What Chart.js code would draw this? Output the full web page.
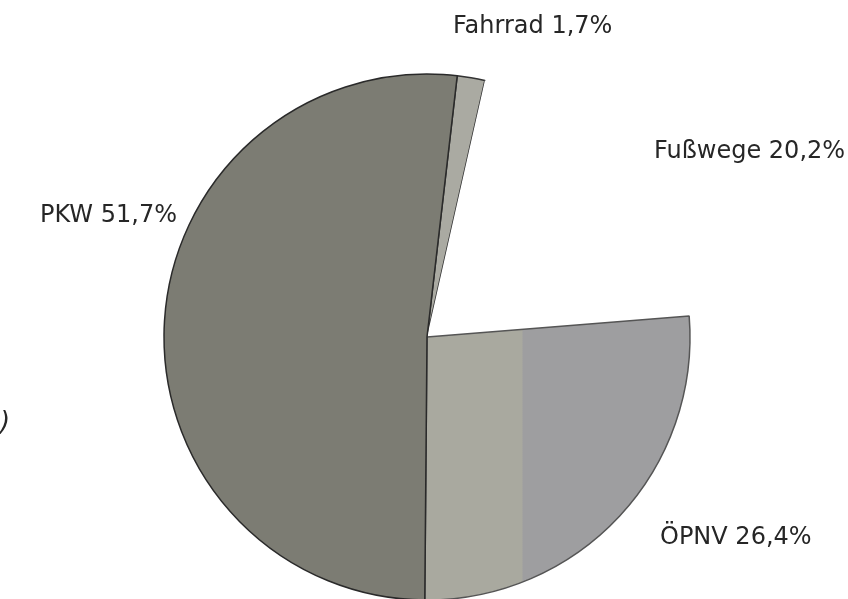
<!DOCTYPE html>
<html><head><meta charset="utf-8">
<script src="https://cdn.jsdelivr.net/npm/chart.js@4"></script>
<style>
html,body{margin:0;padding:0;background:#fff;overflow:hidden;width:848px;height:599px}
#wrap{position:absolute;left:0;top:0;width:848px;height:620px}
</style></head>
<body>
<div id="wrap"><canvas id="c" width="848" height="620"></canvas></div>
<script>
const categories = ["Fahrrad", "Fußwege", "ÖPNV", "PKW"];
const shares = [1.7, 20.2, 26.4, 51.7];
const labelTexts = ["Fahrrad 1,7%", "Fußwege 20,2%", "ÖPNV 26,4%", "PKW 51,7%"];

const labelPos = {
  "Fahrrad": [453, 33],
  "Fußwege": [654, 158],
  "ÖPNV": [660, 544],
  "PKW": [40, 222]
};

const baseColors = ['#aaaaa2', '#ffffff', null, '#7c7c73'];

function sliceFill(ctx) {
  const i = ctx.dataIndex;
  if (baseColors[i]) return baseColors[i];
  const chart = ctx.chart;
  const area = chart.chartArea;
  if (!area) return '#a4a49e';
  const g = chart.ctx.createLinearGradient(area.left, 0, area.right, 0);
  const s = (522 - area.left) / (area.right - area.left);
  g.addColorStop(0, '#a9a99f');
  g.addColorStop(s, '#a9a99f');
  g.addColorStop(Math.min(1, s + 0.002), '#9e9ea0');
  g.addColorStop(1, '#9e9ea0');
  return g;
}

const textPlugin = {
  id: 'texts',
  afterDraw(chart) {
    const c = chart.ctx;
    c.save();
    c.fillStyle = '#262626';
    c.font = '24px "DejaVu Sans"';
    c.textBaseline = 'alphabetic';
    c.textAlign = 'left';
    categories.forEach((cat, i) => {
      const p = labelPos[cat];
      c.fillText(labelTexts[i], p[0], p[1]);
    });
    c.font = 'italic 26px "DejaVu Sans"';
    c.fillText(')', 0, 430);
    c.restore();
  }
};

new Chart(document.getElementById('c'), {
  type: 'pie',
  data: {
    labels: categories,
    datasets: [{
      data: shares,
      backgroundColor: sliceFill,
      borderColor: ['#333333', 'rgba(0,0,0,0)', '#555555', '#2a2a2a'],
      borderWidth: 1.5,
      radius: 263,
      hoverOffset: 0,
      offset: 0
    }]
  },
  options: {
    responsive: false,
    animation: false,
    rotation: 6.6,
    layout: { padding: { top: 74, bottom: 20, left: 164, right: 158 } },
    plugins: { legend: { display: false }, tooltip: { enabled: false } },
    events: []
  },
  plugins: [textPlugin]
});
</script>
</body></html>
